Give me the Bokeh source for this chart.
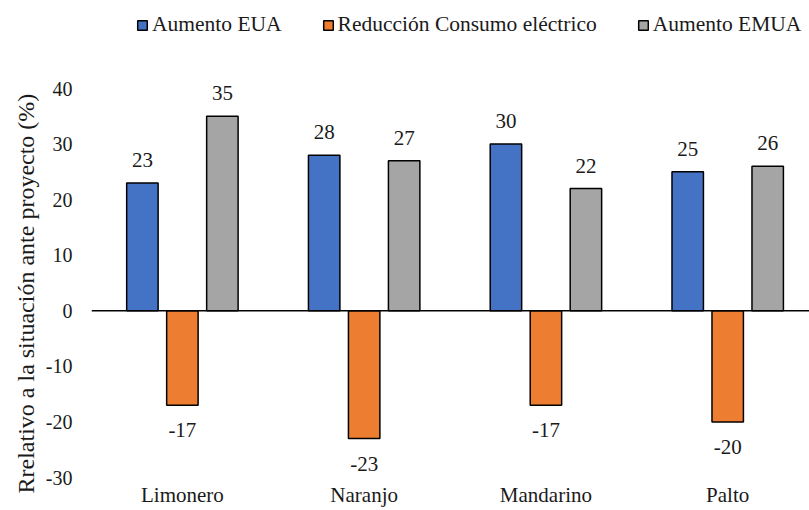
import numpy as np
from bokeh.plotting import figure
from bokeh.models import (ColumnDataSource, Range1d, FixedTicker, Span, LabelSet,
                          Legend, LegendItem, Title)
from bokeh.embed import file_html
from bokeh.resources import INLINE

categories = ["Limonero", "Naranjo", "Mandarino", "Palto"]
aumento_eua = [23, 28, 30, 25]
reduccion_consumo = [-17, -23, -17, -20]
aumento_emua = [35, 27, 22, 26]
series_names = ["Aumento EUA", "Reducción Consumo eléctrico", "Aumento EMUA"]
series_colors = ["#4472C4", "#ED7D31", "#A5A5A5"]
y_ticks = [-30, -20, -10, 0, 10, 20, 30, 40]
y_title = "Rrelativo a la situación ante proyecto (%)"

FONT = "Liberation Serif"
TEXT_COLOR = "#1a1a1a"

# layout: the -30..40 band spans pixel rows 88..477;
# the frame is extended upward to the canvas top to hold the legend
H = 510
frame_bottom_px = 477
band_top_px = 88
px_per_unit = (frame_bottom_px - band_top_px) / (y_ticks[-1] - y_ticks[0])
y_end = y_ticks[-1] + band_top_px / px_per_unit

p = figure(width=809, height=H, output_backend="svg", toolbar_location=None,
           x_range=Range1d(0, 3.95), y_range=Range1d(y_ticks[0], y_end),
           min_border_left=91, min_border_right=0, min_border_top=0,
           min_border_bottom=H - frame_bottom_px)
p.outline_line_color = None
p.xgrid.visible = False
p.ygrid.visible = False
p.background_fill_color = "white"

centers = np.arange(len(categories)) + 0.5
offsets = [-0.22, 0.0, 0.22]
bar_w = 0.173
all_series = [aumento_eua, reduccion_consumo, aumento_emua]

renderers = []
pos_x, pos_y, pos_t = [], [], []
neg_x, neg_y, neg_t = [], [], []
for vals, off, col in zip(all_series, offsets, series_colors):
    xs = centers + off
    src = ColumnDataSource(dict(x=xs, top=vals))
    r = p.vbar(x="x", top="top", bottom=0, width=bar_w, source=src,
               fill_color=col, line_color="black", line_width=1.5)
    renderers.append(r)
    for xv, v in zip(xs, vals):
        if v >= 0:
            pos_x.append(xv); pos_y.append(v); pos_t.append(str(v))
        else:
            neg_x.append(xv); neg_y.append(v); neg_t.append(str(v))

p.add_layout(Span(location=0, dimension="width", line_color="black", line_width=1.5))

pos_src = ColumnDataSource(dict(x=pos_x, y=pos_y, t=pos_t))
neg_src = ColumnDataSource(dict(x=neg_x, y=neg_y, t=neg_t))
p.add_layout(LabelSet(x="x", y="y", text="t", source=pos_src, y_offset=16,
                      text_align="center", text_baseline="bottom",
                      text_font=FONT, text_font_size="21px", text_color=TEXT_COLOR))
p.add_layout(LabelSet(x="x", y="y", text="t", source=neg_src, y_offset=-18,
                      text_align="center", text_baseline="top",
                      text_font=FONT, text_font_size="21px", text_color=TEXT_COLOR))

# X axis
xa = p.xaxis[0]
xa.ticker = FixedTicker(ticks=list(centers))
xa.major_label_overrides = {float(c): name for c, name in zip(centers, categories)}
xa.axis_line_color = None
xa.major_tick_line_color = None
xa.minor_tick_line_color = None
xa.major_tick_out = 0
xa.minor_tick_out = 0
xa.major_label_standoff = 5
xa.major_label_text_font = FONT
xa.major_label_text_font_size = "21px"
xa.major_label_text_color = TEXT_COLOR

# Y axis
ya = p.yaxis[0]
ya.ticker = FixedTicker(ticks=y_ticks)
ya.major_label_overrides = {t: str(t) for t in y_ticks}
ya.axis_line_color = None
ya.major_tick_line_color = None
ya.minor_tick_line_color = None
ya.major_tick_out = 0
ya.minor_tick_out = 0
ya.major_label_standoff = 19
ya.major_label_text_font = FONT
ya.major_label_text_font_size = "20px"
ya.major_label_text_color = TEXT_COLOR

# y-axis title, starting a little below the -30 line as in the reference
ytitle = Title(text=y_title, align="left", offset=-16,
               text_font=FONT, text_font_size="24px", text_font_style="normal",
               text_color=TEXT_COLOR, standoff=7)
p.add_layout(ytitle, "left")

legend = Legend(items=[LegendItem(label=n, renderers=[r]) for n, r in zip(series_names, renderers)],
                orientation="horizontal", location=(45, 440),
                glyph_width=12, glyph_height=12, label_standoff=4, spacing=40,
                padding=0, margin=0, border_line_alpha=0, background_fill_alpha=0,
                label_text_font=FONT, label_text_font_size="21.5px",
                label_text_color=TEXT_COLOR)
p.add_layout(legend, "center")

open("out.html", "w").write(file_html(p, INLINE))
